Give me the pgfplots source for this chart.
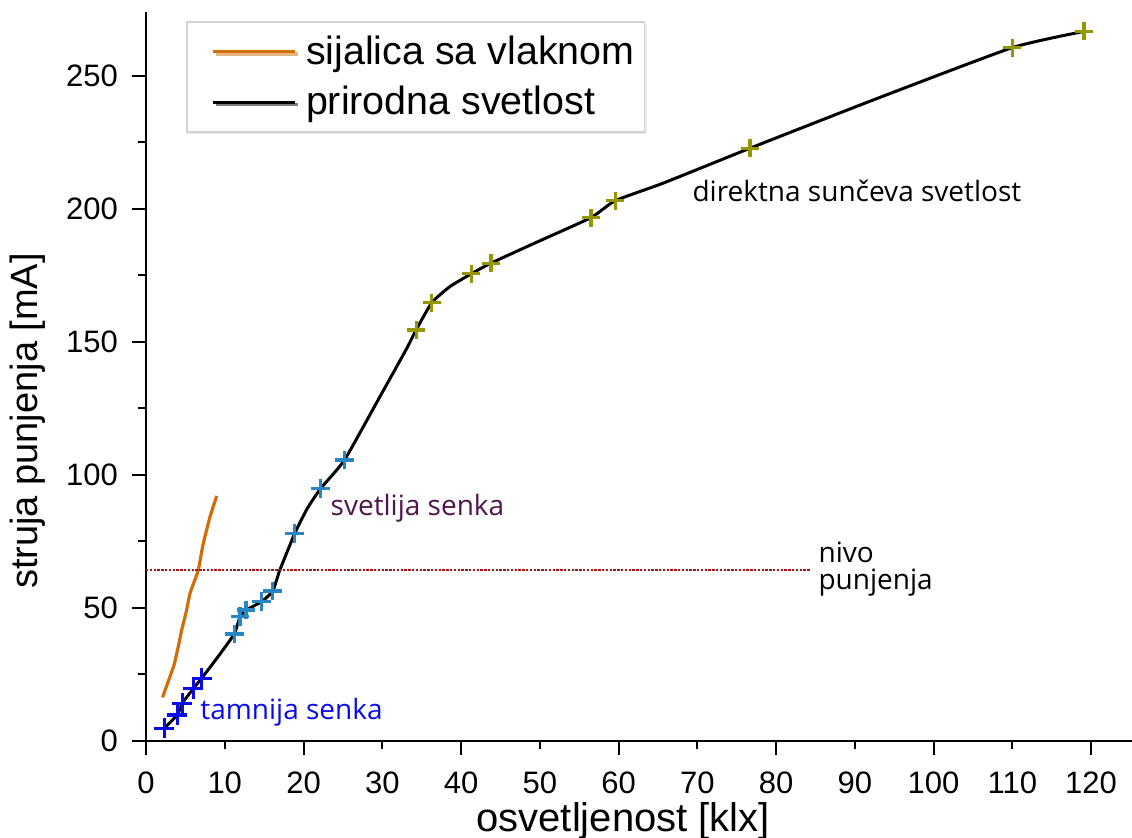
\documentclass[border=0pt]{standalone}
\usepackage{pgfplots}
\pgfplotsset{compat=1.18}
\usepackage{fontspec}
\setmainfont{Liberation Sans}
\newfontfamily\seg{Open Sans}
\usetikzlibrary{shadows}
\definecolor{orng}{RGB}{210,110,10}
\definecolor{dkblue}{RGB}{10,10,240}
\definecolor{ltblue}{RGB}{40,135,195}
\definecolor{olive}{RGB}{150,150,0}
\definecolor{purp}{RGB}{80,20,80}
\definecolor{dkred}{RGB}{165,20,20}
\begin{document}
\begin{tikzpicture}
\begin{axis}[
  scale only axis, width=493pt, height=364.5pt,
  xmin=0, xmax=125.2, ymin=0, ymax=274,
  axis x line=bottom, axis y line=left,
  axis line style={-, line width=1.2pt, black},
  tick align=outside, major tick length=7pt, minor tick length=4pt,
  every tick/.style={line width=1pt, black},
  xtick={0,20,...,120},
  extra x ticks={10,30,...,110},
  extra x tick style={major tick length=4pt, xticklabel style={yshift=-3pt}},
  ytick={0,50,...,250}, minor ytick={25,75,125,175,225},
  ticklabel style={font=\fontsize{15.5}{17}\selectfont},
  xticklabel style={yshift=-5pt},
  yticklabel style={xshift=-3.5pt},
  /pgf/number format/assume math mode=true,
  xlabel={osvetljenost [klx]},
  ylabel={struja punjenja [mA]},
  xlabel style={font=\fontsize{20}{22}\selectfont, at={(rel axis cs:0.484,0)}, anchor=base, yshift=-45.3pt},
  ylabel style={font=\fontsize{19}{21}\selectfont, at={(rel axis cs:0,0.439)}, anchor=south, yshift=47pt},
  legend style={at={(rel axis cs:0.0406,0.9877)}, anchor=north west,
    draw=gray!35, line width=0.8pt, fill=white,
    drop shadow={shadow xshift=1.2pt, shadow yshift=-1.2pt, fill=gray!35},
    font=\fontsize{19.7}{22}\selectfont, inner xsep=3pt, inner ysep=5pt, row sep=5.5pt},
  legend cell align=left,
  legend image code/.code={\path (0pt,0pt) (53pt,0pt); \draw[#1,mark=none] (9.5pt,0pt) -- (50.5pt,0pt);},
]
\addplot[orng, line width=1.6pt, smooth, tension=0.3] coordinates {
(2.1,16.4) (3.2,25.5) (3.6,29.0) (4.1,35.5) (4.53,41.7) (5.1,48.5) (5.59,55.5) (6.2,60.5) (6.65,64.3) (7.0,70.0) (7.28,74.3) (8.13,84.3) (8.98,92.1)};
\addlegendentry{sijalica sa vlaknom}
\addplot[black, line width=1.5pt, smooth, tension=0.3] coordinates {
(2.3,4.8) (3.98,9.8) (4.61,14.2) (6.01,19.7) (7.07,23.6) (9.1,31.5) (11.2,40.2) (11.94,46.7) (12.7,49.2) (14.7,52.4) (16.1,56.4) (17.0,64.3) (18.9,78.1) (20.5,87.5) (22.2,95.0) (25.2,105.6) (29.7,129.4) (33.1,147.5) (34.3,154.5) (36.3,164.8) (38.6,170.8) (41.3,175.6) (43.8,179.6) (50.0,188.0) (56.5,196.7) (59.6,203.1) (65.7,209.7) (76.7,222.8) (92.4,241.0) (110.0,260.6) (119.1,266.7)};
\addlegendentry{prirodna svetlost}
\addplot[dkblue, only marks, mark=+, mark size=5pt, mark options={line width=1.6pt}, forget plot] coordinates {
(2.3,4.8) (3.98,9.8) (4.61,14.2) (6.01,19.7) (7.07,23.6)};
\addplot[ltblue, only marks, mark=+, mark size=4.7pt, mark options={line width=1.6pt}, forget plot] coordinates {
(11.2,40.2) (11.94,46.7) (12.7,49.2) (14.7,52.4) (16.1,56.4) (18.9,78.1) (22.2,95.0) (25.2,105.6)};
\addplot[olive, only marks, mark=+, mark size=4.5pt, mark options={line width=1.6pt}, forget plot] coordinates {
(34.3,154.5) (36.3,164.8) (41.3,175.6) (43.8,179.6) (56.5,196.7) (59.6,203.1) (76.7,222.8) (110.0,260.6) (119.1,266.7)};
\addplot[dkred, line width=0.6pt, dash pattern=on 1.2pt off 0.7pt, forget plot] coordinates {(0,64.3) (84.3,64.3)};
\node[anchor=base west, inner sep=0pt, font=\seg\fontsize{14}{16}\selectfont, text=purp] at (axis cs:23.4,84.6) {svetlija senka};
\node[anchor=base west, inner sep=0pt, font=\seg\fontsize{14}{16}\selectfont, text=dkblue] at (axis cs:6.86,7.9) {tamnija senka};
\node[anchor=base west, inner sep=0pt, font=\seg\fontsize{14}{16}\selectfont] at (axis cs:69.35,202.6) {direktna sunčeva svetlost};
\node[anchor=base west, inner sep=0pt, font=\seg\fontsize{14}{16}\selectfont] at (axis cs:85.35,67.0) {nivo};
\node[anchor=base west, inner sep=0pt, font=\seg\fontsize{14}{16}\selectfont] at (axis cs:85.35,57.0) {punjenja};
\coordinate (ll) at (rel axis cs:0,0);
\coordinate (ur) at (rel axis cs:1,1);
\end{axis}
\pgfresetboundingbox
\useasboundingbox ([xshift=-73pt,yshift=-48.5pt]ll) rectangle ([yshift=6pt]ur);
\end{tikzpicture}
\end{document}
